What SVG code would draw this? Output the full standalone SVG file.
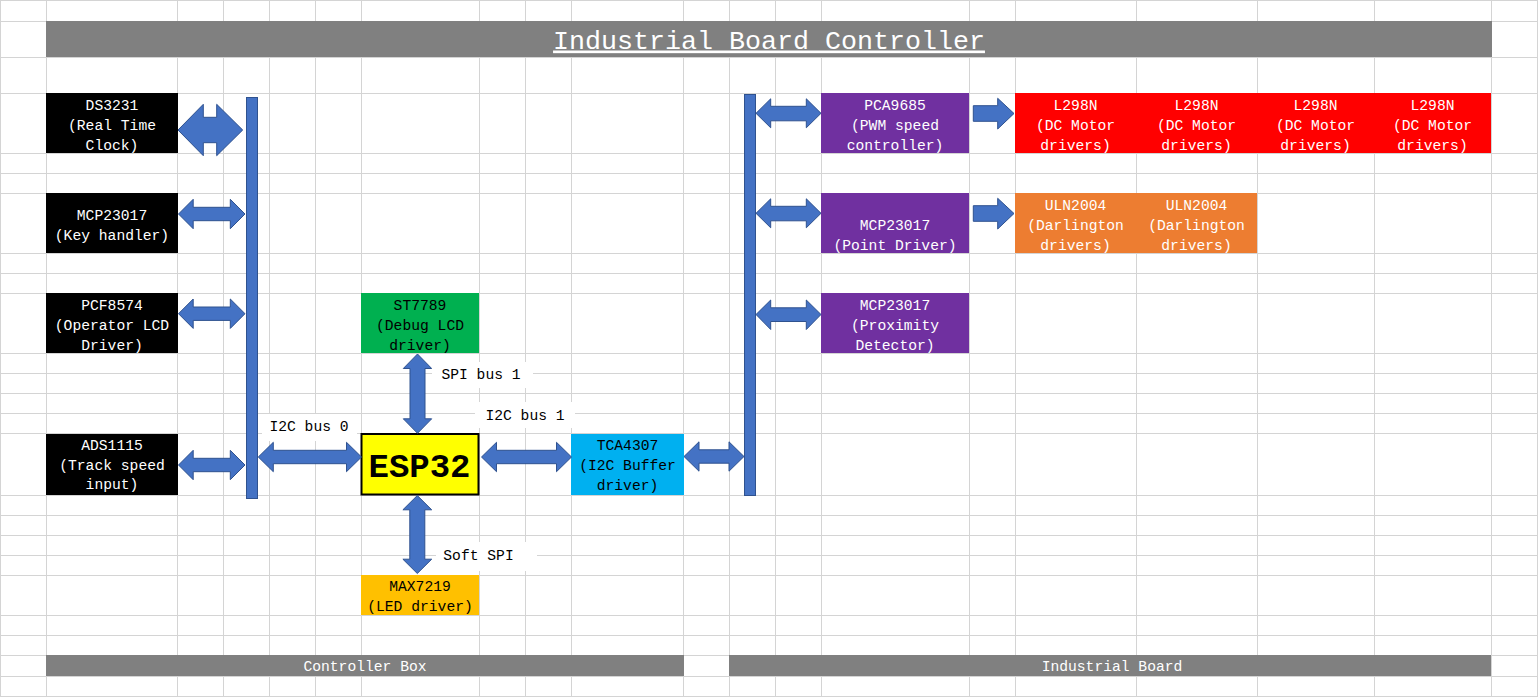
<svg xmlns="http://www.w3.org/2000/svg" width="1538" height="697" viewBox="0 0 1538 697">
<style>
  .grid{stroke:#d4d4d4;stroke-width:1;fill:none}
  .t{font-family:"Liberation Mono","Courier New",monospace;font-size:14.67px;text-anchor:middle}
  .w{fill:#ffffff}
  .k{fill:#000000}
  .arr{fill:#4472c4;stroke:#2f528f;stroke-width:1;stroke-linejoin:miter}
  .lbl{fill:#ffffff}
</style>
<rect x="0" y="0" width="1538" height="697" fill="#ffffff"/>
<g id="grid">
<path class="grid" d="M0.5 0V697M46.5 0V697M177.5 0V697M223.5 0V697M269.5 0V697M315.5 0V697M361.5 0V697M479.5 0V697M525.5 0V697M571.5 0V697M683.5 0V697M729.5 0V697M775.5 0V697M821.5 0V697M969.5 0V697M1015.5 0V697M1136.5 0V697M1257.5 0V697M1374.5 0V697M1491.5 0V697M1537.5 0V697
M0 0.5H1538M0 21.5H1538M0 57.5H1538M0 93.5H1538M0 153.5H1538M0 173.5H1538M0 193.5H1538M0 253.5H1538M0 273.5H1538M0 293.5H1538M0 353.5H1538M0 373.5H1538M0 393.5H1538M0 413.5H1538M0 433.5H1538M0 495.5H1538M0 515.5H1538M0 535.5H1538M0 555.5H1538M0 575.5H1538M0 615.5H1538M0 635.5H1538M0 655.5H1538M0 676.5H1538M0 696.5H1538"/>
</g>

<g id="title">
<rect x="46" y="21" width="1446" height="36" fill="#808080"/>
<text x="769" y="48.5" class="w" style="font-family:'Liberation Mono','Courier New',monospace;font-size:26.67px;text-anchor:middle;text-decoration:underline">Industrial Board Controller</text>
</g>

<g id="ds3231">
<rect x="46" y="93" width="132" height="60" fill="#000000"/>
<text class="t w" x="112" y="109.5">DS3231</text>
<text class="t w" x="112" y="129.5">(Real Time</text>
<text class="t w" x="112" y="149.5">Clock)</text>
</g>
<g id="mcp23017-key">
<rect x="46" y="193" width="132" height="60" fill="#000000"/>
<text class="t w" x="112" y="219.5">MCP23017</text>
<text class="t w" x="112" y="239.5">(Key handler)</text>
</g>
<g id="pcf8574">
<rect x="46" y="293" width="132" height="60" fill="#000000"/>
<text class="t w" x="112" y="309.5">PCF8574</text>
<text class="t w" x="112" y="329.5">(Operator LCD</text>
<text class="t w" x="112" y="349.5">Driver)</text>
</g>
<g id="ads1115">
<rect x="46" y="434" width="132" height="61" fill="#000000"/>
<text class="t w" x="112" y="449.5">ADS1115</text>
<text class="t w" x="112" y="469.5">(Track speed</text>
<text class="t w" x="112" y="489">input)</text>
</g>
<g id="st7789">
<rect x="361" y="293" width="118" height="60" fill="#00b050"/>
<text class="t k" x="420" y="309.5">ST7789</text>
<text class="t k" x="420" y="329.5">(Debug LCD</text>
<text class="t k" x="420" y="349.5">driver)</text>
</g>
<g id="esp32">
<rect x="361.5" y="434" width="117" height="60.5" fill="#ffff00" stroke="#000000" stroke-width="2"/>
<text x="419.5" y="476.5" style="font-family:'Liberation Mono','Courier New',monospace;font-size:34px;font-weight:bold;text-anchor:middle" class="k">ESP32</text>
</g>
<g id="tca4307">
<rect x="571" y="434" width="113" height="61" fill="#00b0f0"/>
<text class="t k" x="627.5" y="449.5">TCA4307</text>
<text class="t k" x="627.5" y="469.5">(I2C Buffer</text>
<text class="t k" x="627.5" y="489.5">driver)</text>
</g>
<g id="max7219">
<rect x="361" y="575" width="118" height="40" fill="#ffc000"/>
<text class="t k" x="420" y="591">MAX7219</text>
<text class="t k" x="420" y="611">(LED driver)</text>
</g>
<g id="pca9685">
<rect x="821" y="93" width="148" height="60" fill="#7030a0"/>
<text class="t w" x="895" y="109.5">PCA9685</text>
<text class="t w" x="895" y="129.5">(PWM speed</text>
<text class="t w" x="895" y="149.5">controller)</text>
</g>
<g id="mcp23017-point">
<rect x="821" y="193" width="148" height="60" fill="#7030a0"/>
<text class="t w" x="895" y="229.5">MCP23017</text>
<text class="t w" x="895" y="249.5">(Point Driver)</text>
</g>
<g id="mcp23017-prox">
<rect x="821" y="293" width="148" height="60" fill="#7030a0"/>
<text class="t w" x="895" y="309.5">MCP23017</text>
<text class="t w" x="895" y="329.5">(Proximity</text>
<text class="t w" x="895" y="349.5">Detector)</text>
</g>
<g id="l298n">
<rect x="1015" y="93" width="476" height="60" fill="#ff0000"/>
<text class="t w" x="1075.5" y="109.5">L298N</text>
<text class="t w" x="1075.5" y="129.5">(DC Motor</text>
<text class="t w" x="1075.5" y="149.5">drivers)</text>
<text class="t w" x="1196.5" y="109.5">L298N</text>
<text class="t w" x="1196.5" y="129.5">(DC Motor</text>
<text class="t w" x="1196.5" y="149.5">drivers)</text>
<text class="t w" x="1315.5" y="109.5">L298N</text>
<text class="t w" x="1315.5" y="129.5">(DC Motor</text>
<text class="t w" x="1315.5" y="149.5">drivers)</text>
<text class="t w" x="1432.5" y="109.5">L298N</text>
<text class="t w" x="1432.5" y="129.5">(DC Motor</text>
<text class="t w" x="1432.5" y="149.5">drivers)</text>
</g>
<g id="uln2004">
<rect x="1015" y="193" width="242" height="60" fill="#ed7d31"/>
<text class="t w" x="1075.5" y="209.5">ULN2004</text>
<text class="t w" x="1075.5" y="229.5">(Darlington</text>
<text class="t w" x="1075.5" y="249.5">drivers)</text>
<text class="t w" x="1196.5" y="209.5">ULN2004</text>
<text class="t w" x="1196.5" y="229.5">(Darlington</text>
<text class="t w" x="1196.5" y="249.5">drivers)</text>
</g>
<g id="controller-box">
<rect x="46" y="655" width="638" height="21" fill="#808080"/>
<text class="t w" x="365" y="670.5">Controller Box</text>
</g>
<g id="industrial-board">
<rect x="729" y="655" width="762" height="21" fill="#808080"/>
<text class="t w" x="1112" y="670.5">Industrial Board</text>
</g>

<g id="connectors">
<rect class="arr" x="246.5" y="97.5" width="11" height="401"/>
<rect class="arr" x="744.5" y="94.5" width="11" height="401"/>
<polygon class="arr" points="178,130 203.3,104.3 203.3,117.3 216.7,117.3 216.7,104.3 242.7,130 216.7,155.7 216.7,142.7 203.3,142.7 203.3,155.7"/>
<polygon class="arr" points="178.5,214 193.2,199.3 193.2,207.3 230.3,207.3 230.3,199.3 245,214 230.3,228.7 230.3,220.7 193.2,220.7 193.2,228.7"/>
<polygon class="arr" points="178.5,313.7 193.2,299 193.2,307 230.3,307 230.3,299 245,313.7 230.3,328.4 230.3,320.4 193.2,320.4 193.2,328.4"/>
<polygon class="arr" points="178.5,465 193.2,450.3 193.2,458.3 230.3,458.3 230.3,450.3 245,465 230.3,479.7 230.3,471.7 193.2,471.7 193.2,479.7"/>
<polygon class="arr" points="258.3,457 273.3,442.3 273.3,450.3 346.5,450.3 346.5,442.3 361.5,457 346.5,471.7 346.5,463.7 273.3,463.7 273.3,471.7"/>
<polygon class="arr" points="481.5,457 496.5,442.3 496.5,450.3 556.5,450.3 556.5,442.3 571.5,457 556.5,471.7 556.5,463.7 496.5,463.7 496.5,471.7"/>
<polygon class="arr" points="684,456.5 699,441.8 699,449.8 729,449.8 729,441.8 744,456.5 729,471.2 729,463.2 699,463.2 699,471.2"/>
<polygon class="arr" points="756,113.3 770.7,98.8 770.7,106.3 806.3,106.3 806.3,98.8 821,113.3 806.3,127.8 806.3,120.8 770.7,120.8 770.7,127.8"/>
<polygon class="arr" points="756,213.3 770.7,198.8 770.7,206.3 806.3,206.3 806.3,198.8 821,213.3 806.3,227.8 806.3,220.8 770.7,220.8 770.7,227.8"/>
<polygon class="arr" points="756,314.5 770.7,300 770.7,307.8 806.3,307.8 806.3,300 821,314.5 806.3,329.5 806.3,321.5 770.7,321.5 770.7,329.5"/>
<polygon class="arr" points="417.5,354 431.7,368.5 425,368.5 425,418.8 431.7,418.8 417.5,433.3 403.3,418.8 410,418.8 410,368.5 403.3,368.5"/>
<polygon class="arr" points="417.3,495.5 431.7,509.8 424.8,509.8 424.8,559.2 431.7,559.2 417.3,573.5 402.9,559.2 409.8,559.2 409.8,509.8 402.9,509.8"/>
<polygon class="arr" points="973.3,105.7 997.7,105.7 997.7,98.3 1014,113.5 997.7,129 997.7,121.3 973.3,121.3"/>
<polygon class="arr" points="973.3,205.7 997.7,205.7 997.7,198.3 1014,213.5 997.7,229 997.7,221.3 973.3,221.3"/>
</g>

<g id="labels">
<rect class="lbl" x="262" y="414" width="95" height="27"/>
<text class="t k" x="309" y="431">I2C bus 0</text>
<rect class="lbl" x="432" y="362" width="101" height="26"/>
<text class="t k" x="481" y="378.5">SPI bus 1</text>
<rect class="lbl" x="475" y="402" width="100" height="26"/>
<text class="t k" x="525" y="419.5">I2C bus 1</text>
<rect class="lbl" x="436" y="542" width="101" height="29"/>
<text class="t k" x="478.5" y="559.5">Soft SPI</text>
</g>
</svg>
